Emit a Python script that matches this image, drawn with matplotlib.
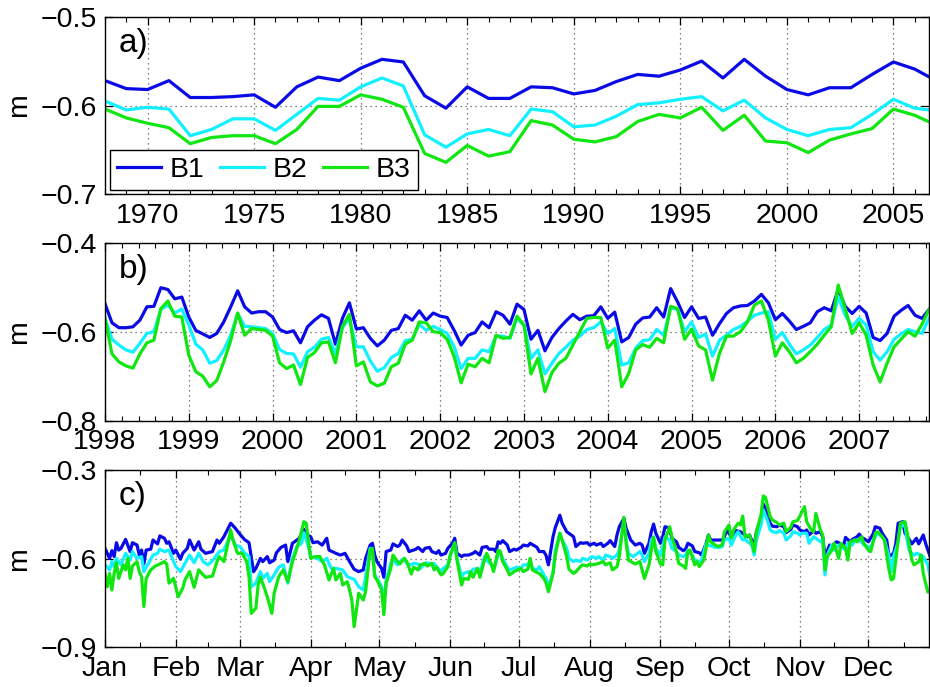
import numpy as np
import matplotlib.pyplot as plt
from matplotlib.ticker import FixedLocator, MultipleLocator

plt.rcParams['font.family'] = ['Liberation Sans', 'DejaVu Sans']

#Panel a: annual means
years = np.arange(1968, 2008)
a_B1 = [-0.572, -0.581, -0.582, -0.572, -0.591, -0.591, -0.590, -0.588, -0.602, -0.579,
        -0.568, -0.572, -0.558, -0.548, -0.551, -0.589, -0.603, -0.579, -0.592, -0.592,
        -0.579, -0.580, -0.587, -0.583, -0.573, -0.565, -0.567, -0.560, -0.550, -0.569,
        -0.548, -0.567, -0.582, -0.588, -0.580, -0.580, -0.565, -0.551, -0.559, -0.572]
a_B2 = [-0.595, -0.605, -0.602, -0.604, -0.634, -0.627, -0.615, -0.615, -0.628, -0.610,
        -0.592, -0.594, -0.579, -0.569, -0.578, -0.633, -0.647, -0.632, -0.627, -0.634,
        -0.604, -0.607, -0.624, -0.622, -0.612, -0.599, -0.597, -0.593, -0.590, -0.606,
        -0.594, -0.614, -0.627, -0.634, -0.627, -0.625, -0.610, -0.593, -0.603, -0.606]
a_B3 = [-0.604, -0.614, -0.620, -0.625, -0.643, -0.636, -0.634, -0.634, -0.643, -0.627,
        -0.601, -0.601, -0.588, -0.593, -0.602, -0.654, -0.664, -0.645, -0.657, -0.652,
        -0.617, -0.622, -0.638, -0.641, -0.635, -0.618, -0.610, -0.614, -0.602, -0.628,
        -0.611, -0.640, -0.642, -0.653, -0.639, -0.632, -0.626, -0.604, -0.611, -0.622]

#Panel b: monthly means Jan 1998 - Nov 2007
months = np.arange(119)
b_B1 = [-0.536, -0.579, -0.590, -0.590, -0.588, -0.573, -0.543, -0.542, -0.500, -0.504,
        -0.525, -0.521, -0.566, -0.596, -0.604, -0.612, -0.603, -0.577, -0.543, -0.507,
        -0.543, -0.557, -0.554, -0.554, -0.566, -0.594, -0.601, -0.597, -0.624, -0.588,
        -0.573, -0.561, -0.569, -0.627, -0.569, -0.534, -0.593, -0.590, -0.614, -0.631,
        -0.618, -0.596, -0.592, -0.562, -0.573, -0.552, -0.573, -0.557, -0.564, -0.567,
        -0.596, -0.629, -0.607, -0.601, -0.577, -0.590, -0.554, -0.562, -0.582, -0.537,
        -0.549, -0.616, -0.596, -0.642, -0.612, -0.592, -0.575, -0.560, -0.572, -0.564,
        -0.563, -0.543, -0.569, -0.555, -0.622, -0.612, -0.582, -0.568, -0.566,
        -0.545, -0.566, -0.502, -0.532, -0.567, -0.543, -0.569, -0.566, -0.607, -0.581,
        -0.558, -0.545, -0.541, -0.540, -0.530, -0.515, -0.534, -0.572, -0.558, -0.575,
        -0.594, -0.587, -0.579, -0.554, -0.545, -0.552, -0.504, -0.542, -0.558, -0.542,
        -0.557, -0.612, -0.619, -0.603, -0.564, -0.551, -0.540, -0.562, -0.569, -0.549]
b_B2 = [-0.569, -0.616, -0.629, -0.640, -0.645, -0.625, -0.603, -0.599, -0.549, -0.539,
        -0.557, -0.548, -0.584, -0.627, -0.640, -0.670, -0.664, -0.640, -0.607, -0.558,
        -0.587, -0.588, -0.590, -0.592, -0.603, -0.639, -0.648, -0.649, -0.679, -0.644,
        -0.634, -0.616, -0.612, -0.648, -0.590, -0.569, -0.633, -0.633, -0.665, -0.688,
        -0.680, -0.657, -0.648, -0.619, -0.616, -0.582, -0.596, -0.587, -0.594, -0.603,
        -0.633, -0.682, -0.659, -0.659, -0.640, -0.644, -0.609, -0.609, -0.614, -0.569,
        -0.584, -0.659, -0.640, -0.694, -0.670, -0.648, -0.634, -0.618, -0.609, -0.594,
        -0.590, -0.577, -0.603, -0.592, -0.674, -0.669, -0.636, -0.619, -0.617,
        -0.594, -0.607, -0.545, -0.549, -0.599, -0.577, -0.612, -0.604, -0.654, -0.618,
        -0.607, -0.594, -0.587, -0.575, -0.562, -0.557, -0.554, -0.616, -0.601, -0.627,
        -0.649, -0.640, -0.629, -0.612, -0.594, -0.584, -0.520, -0.562, -0.587, -0.569,
        -0.584, -0.644, -0.663, -0.644, -0.616, -0.604, -0.594, -0.599, -0.603, -0.569]
b_B3 = [-0.569, -0.649, -0.667, -0.676, -0.681, -0.649, -0.624, -0.618, -0.547, -0.530,
        -0.564, -0.566, -0.652, -0.689, -0.699, -0.723, -0.709, -0.667, -0.619, -0.557,
        -0.607, -0.592, -0.594, -0.596, -0.609, -0.669, -0.682, -0.674, -0.718, -0.657,
        -0.646, -0.624, -0.622, -0.669, -0.587, -0.560, -0.676, -0.667, -0.712, -0.721,
        -0.715, -0.678, -0.670, -0.627, -0.618, -0.577, -0.579, -0.599, -0.601, -0.616,
        -0.655, -0.714, -0.672, -0.678, -0.659, -0.669, -0.607, -0.614, -0.612, -0.564,
        -0.584, -0.694, -0.659, -0.734, -0.691, -0.670, -0.659, -0.629, -0.599, -0.569,
        -0.567, -0.567, -0.636, -0.618, -0.723, -0.693, -0.640, -0.628, -0.634,
        -0.614, -0.624, -0.542, -0.547, -0.616, -0.593, -0.631, -0.640, -0.708, -0.648,
        -0.609, -0.609, -0.599, -0.577, -0.539, -0.530, -0.573, -0.654, -0.624, -0.644,
        -0.669, -0.659, -0.644, -0.627, -0.607, -0.588, -0.494, -0.547, -0.603, -0.579,
        -0.607, -0.674, -0.712, -0.670, -0.633, -0.616, -0.599, -0.609, -0.582, -0.549]

#Panel c: daily values (day of year, value)
c_B1 = [(1, -0.565), (3, -0.599), (4, -0.573), (5, -0.593), (6, -0.546), (7, -0.571), (8, -0.565),
        (10, -0.535), (12, -0.576), (13, -0.546), (15, -0.554), (16, -0.588), (17, -0.571), (18, -0.618),
        (19, -0.571), (21, -0.568), (22, -0.537), (24, -0.550), (25, -0.523), (27, -0.531), (28, -0.548),
        (29, -0.543), (31, -0.582), (32, -0.571), (34, -0.602), (35, -0.582), (37, -0.565), (38, -0.537),
        (40, -0.571), (42, -0.543), (43, -0.568), (45, -0.582), (48, -0.576), (50, -0.537), (51, -0.548),
        (53, -0.526), (56, -0.480), (58, -0.497), (60, -0.517), (62, -0.535), (64, -0.546), (66, -0.644),
        (67, -0.633), (69, -0.599), (70, -0.610), (72, -0.593), (73, -0.614), (75, -0.605), (76, -0.580),
        (78, -0.562), (80, -0.554), (81, -0.610), (83, -0.548), (85, -0.537), (86, -0.531), (88, -0.501),
        (89, -0.517), (91, -0.526), (92, -0.546), (94, -0.543), (96, -0.554), (98, -0.531), (99, -0.571),
        (102, -0.582), (104, -0.588), (106, -0.582), (108, -0.610), (110, -0.636), (112, -0.644),
        (114, -0.638), (115, -0.599),
        (117, -0.554), (118, -0.548), (119, -0.588), (120, -0.610), (122, -0.633), (123, -0.663),
        (124, -0.576), (126, -0.571), (127, -0.550), (129, -0.559), (130, -0.554), (131, -0.537),
        (133, -0.557), (134, -0.576), (136, -0.571), (137, -0.568), (138, -0.562), (140, -0.576),
        (141, -0.565), (143, -0.562), (144, -0.576), (146, -0.582), (147, -0.573), (148, -0.588),
        (150, -0.582), (151, -0.565), (153, -0.548), (154, -0.531), (155, -0.582), (157, -0.593),
        (158, -0.588), (160, -0.588), (162, -0.582), (163, -0.576), (165, -0.588), (166, -0.562),
        (168, -0.559), (169, -0.568), (171, -0.568), (172, -0.576), (173, -0.543), (174, -0.548),
        (175, -0.539), (177, -0.554), (178, -0.576), (180, -0.568), (181, -0.571), (183, -0.562),
        (184, -0.554), (186, -0.557), (187, -0.548), (189, -0.557), (190, -0.562), (191, -0.576),
        (193, -0.576), (194, -0.590), (195, -0.621), (197, -0.526), (198, -0.495), (200, -0.453),
        (201, -0.480), (203, -0.509), (205, -0.520), (206, -0.526), (207, -0.559), (209, -0.546),
        (210, -0.548), (212, -0.546), (213, -0.554), (215, -0.548), (216, -0.554), (218, -0.548),
        (219, -0.559), (221, -0.548), (222, -0.539), (224, -0.559), (225, -0.520), (226, -0.492),
        (228, -0.464), (229, -0.497), (231, -0.537), (233, -0.554),
        (235, -0.548), (236, -0.554), (237, -0.582), (239, -0.548), (240, -0.509), (241, -0.483),
        (242, -0.514), (244, -0.548), (245, -0.526), (246, -0.492), (248, -0.497), (249, -0.531),
        (251, -0.543), (252, -0.562), (254, -0.573), (255, -0.568), (256, -0.548), (258, -0.557),
        (259, -0.576), (261, -0.580), (262, -0.588), (264, -0.548), (265, -0.520), (266, -0.537),
        (268, -0.537), (269, -0.537), (271, -0.537), (272, -0.526), (273, -0.503), (275, -0.526),
        (276, -0.514), (277, -0.505), (279, -0.509), (280, -0.514), (282, -0.526), (283, -0.520),
        (285, -0.557), (286, -0.509), (288, -0.467), (289, -0.415), (291, -0.452), (292, -0.480),
        (293, -0.490), (295, -0.492), (296, -0.486), (298, -0.492), (299, -0.512), (301, -0.501),
        (302, -0.486), (304, -0.492), (305, -0.503), (307, -0.509), (308, -0.503), (309, -0.520),
        (311, -0.505), (312, -0.514), (314, -0.509), (315, -0.526), (316, -0.593), (318, -0.554),
        (319, -0.557), (321, -0.543), (322, -0.546), (324, -0.559), (325, -0.528), (327, -0.543),
        (328, -0.535), (330, -0.526), (331, -0.517), (332, -0.528), (334, -0.537), (335, -0.543),
        (337, -0.517), (338, -0.492), (340, -0.497), (341, -0.514), (343, -0.537), (344, -0.593),
        (346, -0.582), (347, -0.548), (348, -0.480), (350, -0.475), (351, -0.514), (353, -0.537),
        (354, -0.550), (356, -0.531), (357, -0.550), (359, -0.520), (360, -0.548), (362, -0.593)]
c_B2 = [(1, -0.621), (3, -0.638), (4, -0.610), (5, -0.627), (6, -0.599), (8, -0.621), (10, -0.582),
        (12, -0.605), (13, -0.576), (15, -0.599), (17, -0.593), (18, -0.644), (20, -0.616), (22, -0.588),
        (24, -0.582), (25, -0.568), (27, -0.576), (29, -0.571), (31, -0.610), (32, -0.627), (34, -0.644),
        (36, -0.616), (38, -0.588), (40, -0.614), (42, -0.582), (44, -0.610), (46, -0.621), (48, -0.607),
        (51, -0.576), (53, -0.571), (56, -0.520), (58, -0.554), (60, -0.559), (62, -0.580), (64, -0.593),
        (65, -0.695), (67, -0.683), (69, -0.644), (70, -0.667), (72, -0.650), (73, -0.678), (75, -0.655),
        (77, -0.629), (79, -0.621), (81, -0.683), (83, -0.599), (85, -0.559), (87, -0.548), (88, -0.512),
        (90, -0.559), (91, -0.593), (94, -0.599), (96, -0.610), (98, -0.599), (100, -0.633),
        (102, -0.633), (105, -0.638), (107, -0.661), (110, -0.670), (112, -0.695), (114, -0.706),
        (115, -0.661),
        (117, -0.565), (118, -0.582), (119, -0.655), (120, -0.667), (122, -0.695), (123, -0.751),
        (124, -0.672), (126, -0.616), (127, -0.605), (129, -0.621), (130, -0.610), (132, -0.599),
        (133, -0.616), (135, -0.621), (136, -0.616), (138, -0.618), (139, -0.633), (141, -0.616),
        (142, -0.614), (144, -0.621), (145, -0.616), (146, -0.627), (148, -0.644), (149, -0.633),
        (151, -0.621), (152, -0.593), (154, -0.548), (155, -0.599), (157, -0.661), (158, -0.650),
        (160, -0.644), (161, -0.650), (162, -0.636), (164, -0.633), (165, -0.650), (167, -0.593),
        (168, -0.605), (170, -0.621), (171, -0.638), (173, -0.588), (174, -0.582), (175, -0.599),
        (177, -0.629), (178, -0.638), (180, -0.633), (181, -0.629), (183, -0.633), (184, -0.621),
        (186, -0.621), (187, -0.605), (188, -0.633), (190, -0.638), (191, -0.627), (193, -0.655),
        (194, -0.667), (195, -0.695), (197, -0.650), (198, -0.571), (200, -0.514), (201, -0.537),
        (203, -0.565), (204, -0.599), (206, -0.610), (207, -0.605), (209, -0.610), (210, -0.599),
        (212, -0.605), (213, -0.599), (214, -0.593), (216, -0.599), (217, -0.593), (219, -0.605),
        (220, -0.588), (222, -0.593), (223, -0.599), (225, -0.588), (226, -0.571), (228, -0.475),
        (229, -0.537), (230, -0.582), (232, -0.593), (233, -0.588),
        (235, -0.576), (236, -0.588), (237, -0.610), (239, -0.582), (240, -0.537), (241, -0.526),
        (242, -0.565), (244, -0.588), (245, -0.559), (246, -0.526), (248, -0.537), (249, -0.565),
        (251, -0.576), (252, -0.588), (254, -0.593), (255, -0.588), (256, -0.571), (258, -0.588),
        (259, -0.605), (261, -0.610), (262, -0.605), (264, -0.548), (265, -0.554), (267, -0.559),
        (268, -0.562), (270, -0.562), (271, -0.559), (272, -0.537), (274, -0.531), (275, -0.554),
        (277, -0.520), (278, -0.509), (280, -0.537), (281, -0.535), (283, -0.548), (284, -0.554),
        (285, -0.588), (286, -0.537), (288, -0.486), (289, -0.435), (291, -0.475), (292, -0.503),
        (293, -0.509), (295, -0.512), (296, -0.505), (298, -0.514), (299, -0.537), (301, -0.523),
        (302, -0.509), (304, -0.514), (305, -0.520), (306, -0.514), (308, -0.514), (309, -0.548),
        (311, -0.526), (312, -0.531), (314, -0.543), (315, -0.537), (316, -0.655), (317, -0.588),
        (319, -0.554), (320, -0.571), (322, -0.554), (323, -0.559), (325, -0.571), (326, -0.548),
        (328, -0.554), (329, -0.537), (330, -0.537), (332, -0.543), (333, -0.554), (335, -0.559),
        (336, -0.562), (338, -0.526), (339, -0.514), (341, -0.526), (342, -0.537), (344, -0.593),
        (345, -0.644), (346, -0.593), (348, -0.543), (349, -0.492), (351, -0.486), (352, -0.543),
        (353, -0.576), (355, -0.588), (356, -0.582), (358, -0.588), (359, -0.593), (361, -0.621),
        (362, -0.661)]
c_B3 = [(1, -0.650), (2, -0.695), (3, -0.650), (4, -0.706), (5, -0.650), (6, -0.614), (7, -0.667),
        (9, -0.621), (10, -0.638), (11, -0.599), (12, -0.667), (13, -0.625), (15, -0.610), (16, -0.644),
        (17, -0.661), (18, -0.762), (19, -0.667), (21, -0.638), (23, -0.625), (25, -0.618), (27, -0.610),
        (28, -0.618), (29, -0.683), (31, -0.667), (33, -0.729), (35, -0.700), (36, -0.672), (38, -0.644),
        (40, -0.697), (42, -0.638), (43, -0.647), (45, -0.663), (48, -0.659), (50, -0.610), (51, -0.593),
        (53, -0.610), (54, -0.576), (56, -0.503), (57, -0.537), (59, -0.582), (61, -0.582), (63, -0.610),
        (64, -0.661), (65, -0.785), (67, -0.768), (68, -0.689), (69, -0.663), (71, -0.706), (72, -0.729),
        (74, -0.785), (75, -0.717), (77, -0.661), (79, -0.638), (81, -0.678), (83, -0.610), (84, -0.588),
        (86, -0.537), (88, -0.475), (89, -0.480), (91, -0.599), (93, -0.593), (95, -0.593), (97, -0.621),
        (99, -0.672), (101, -0.633), (102, -0.672), (104, -0.650), (105, -0.689), (107, -0.678),
        (108, -0.706), (109, -0.740), (110, -0.830), (112, -0.717), (114, -0.740), (115, -0.712),
        (117, -0.571), (118, -0.565), (119, -0.661), (120, -0.672), (122, -0.706), (123, -0.790),
        (124, -0.683), (126, -0.633), (127, -0.588), (129, -0.610), (130, -0.618), (132, -0.599),
        (133, -0.610), (135, -0.652), (136, -0.629), (138, -0.638), (139, -0.621), (141, -0.616),
        (142, -0.625), (144, -0.616), (145, -0.638), (146, -0.629), (148, -0.655), (149, -0.650),
        (151, -0.627), (152, -0.588), (154, -0.546), (155, -0.605), (157, -0.689), (158, -0.667),
        (160, -0.670), (161, -0.644), (162, -0.663), (164, -0.633), (165, -0.663), (167, -0.605),
        (168, -0.582), (170, -0.618), (171, -0.644), (173, -0.571), (174, -0.576), (175, -0.610),
        (177, -0.638), (178, -0.655), (180, -0.644), (181, -0.640), (183, -0.633), (184, -0.644),
        (186, -0.636), (187, -0.599), (188, -0.638), (190, -0.647), (191, -0.650), (193, -0.667),
        (194, -0.683), (195, -0.712), (197, -0.650), (198, -0.588), (200, -0.514), (201, -0.537),
        (203, -0.593), (204, -0.636), (206, -0.650), (207, -0.644), (209, -0.627), (210, -0.621),
        (212, -0.625), (213, -0.618), (214, -0.621), (216, -0.618), (217, -0.616), (219, -0.610),
        (220, -0.621), (222, -0.614), (223, -0.638), (225, -0.627), (226, -0.593), (228, -0.460),
        (229, -0.548), (230, -0.605), (232, -0.614), (233, -0.618),
        (235, -0.610), (236, -0.638), (237, -0.667), (239, -0.621), (240, -0.571), (241, -0.528),
        (242, -0.576), (244, -0.618), (245, -0.621), (246, -0.537), (248, -0.492), (249, -0.526),
        (251, -0.576), (252, -0.616), (254, -0.625), (255, -0.633), (256, -0.576), (257, -0.571),
        (259, -0.621), (260, -0.610), (261, -0.627), (263, -0.605), (265, -0.520), (266, -0.543),
        (268, -0.554), (269, -0.559), (271, -0.554), (272, -0.509), (274, -0.486), (275, -0.531),
        (276, -0.503), (278, -0.480), (279, -0.486), (280, -0.456), (281, -0.526), (283, -0.520),
        (285, -0.576), (286, -0.509), (288, -0.452), (289, -0.388), (290, -0.393), (292, -0.458),
        (293, -0.469), (295, -0.478), (296, -0.486), (298, -0.480), (299, -0.509), (301, -0.494),
        (302, -0.475), (304, -0.471), (305, -0.456), (307, -0.424), (308, -0.475), (310, -0.503),
        (311, -0.509), (312, -0.447), (314, -0.503), (315, -0.520), (316, -0.638), (317, -0.593),
        (319, -0.571), (320, -0.548), (322, -0.599), (323, -0.548), (325, -0.565), (326, -0.605),
        (327, -0.543), (329, -0.537), (330, -0.543), (332, -0.526), (333, -0.548), (335, -0.571),
        (336, -0.576), (338, -0.514), (339, -0.509), (341, -0.526), (342, -0.537), (344, -0.638),
        (345, -0.672), (346, -0.667), (348, -0.537), (349, -0.480), (351, -0.475), (352, -0.514),
        (354, -0.605), (355, -0.621), (357, -0.610), (358, -0.588), (359, -0.650), (360, -0.683),
        (361, -0.712)]

month_names = ['Jan', 'Feb', 'Mar', 'Apr', 'May', 'Jun', 'Jul', 'Aug', 'Sep', 'Oct', 'Nov', 'Dec']
month_start = [1, 32, 60, 91, 121, 152, 182, 213, 244, 274, 305, 335]

colors = {'B1': '#0a0ae6', 'B2': '#10f0ff', 'B3': '#10e610'}
lw = 2.3
fs = 20.5

fig = plt.figure(figsize=(9.3, 6.87), dpi=100)
axa = fig.add_axes([105/930, 1-194.3/687, 824/930, 177.6/687])
axb = fig.add_axes([105/930, 1-421/687, 824/930, 177.7/687])
axc = fig.add_axes([105/930, 1-647.3/687, 824/930, 177.3/687])

def style(ax, yticks, label):
    ax.set_ylim(yticks[0], yticks[-1])
    ax.set_yticks(yticks)
    ax.tick_params(which='both', direction='in', top=True, right=True, labelsize=fs, pad=6)
    ax.tick_params(which='major', length=6, width=0.9)
    ax.tick_params(which='minor', length=3.5, width=0.8)
    ax.grid(True, which='major', linestyle=(0, (1, 3)), color='0.35', linewidth=0.9)
    ax.set_ylabel('m', fontsize=fs)
    ax.yaxis.set_label_coords(-0.088, 0.5)
    ax.text(0.017, 0.85, label, transform=ax.transAxes, fontsize=24, va='center', ha='left')
    for s in ax.spines.values():
        s.set_linewidth(1.0)

#a) annual
for name, vals in zip(['B1', 'B2', 'B3'], [a_B1, a_B2, a_B3]):
    axa.plot(years, vals, color=colors[name], lw=lw, label=name)
axa.set_xlim(1968, 2006.67)
axa.xaxis.set_major_locator(FixedLocator(np.arange(1970, 2006, 5)))
axa.xaxis.set_minor_locator(MultipleLocator(1))
style(axa, [-0.7, -0.6, -0.5], 'a)')
leg = axa.legend(loc='lower left', bbox_to_anchor=(0.006, 0.024), ncol=3, fontsize=fs,
                 frameon=True, fancybox=False, edgecolor='black', framealpha=1,
                 borderaxespad=0, handlelength=1.55, handletextpad=0.3, columnspacing=0.55,
                 borderpad=0.25)
leg.get_frame().set_linewidth(1.0)

#b) monthly
tb = 1998 + months/12
for name, vals in zip(['B1', 'B2', 'B3'], [b_B1, b_B2, b_B3]):
    axb.plot(tb, vals, color=colors[name], lw=lw)
axb.set_xlim(1998, 1998 + 118/12)
axb.xaxis.set_major_locator(FixedLocator(np.arange(1998, 2008)))
axb.xaxis.set_minor_locator(MultipleLocator(0.2))
style(axb, [-0.8, -0.6, -0.4], 'b)')

#c) daily
for name, pts in zip(['B1', 'B2', 'B3'], [c_B1, c_B2, c_B3]):
    d, v = zip(*pts)
    axc.plot(d, v, color=colors[name], lw=lw)
axc.set_xlim(1, 361.5)
axc.set_xticks(month_start)
axc.set_xticklabels(month_names)
mids = [(a + b) / 2 for a, b in zip(month_start, month_start[1:] + [366])]
axc.xaxis.set_minor_locator(FixedLocator(mids))
style(axc, [-0.9, -0.6, -0.3], 'c)')

plt.savefig('out.png', dpi=100)
